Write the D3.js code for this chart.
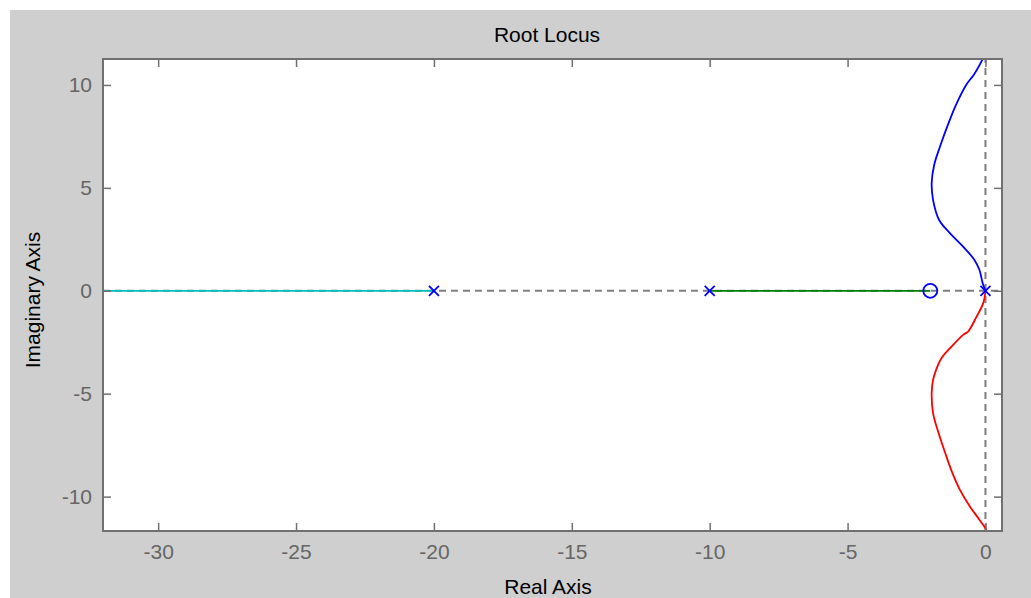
<!DOCTYPE html>
<html>
<head>
<meta charset="utf-8">
<script src="https://cdn.jsdelivr.net/npm/d3@7"></script>
<style>
  html, body { margin: 0; padding: 0; background: #ffffff; }
  svg { display: block; }
  text { font-family: "Liberation Sans", Arial, sans-serif; }
</style>
</head>
<body>
<svg id="chart" width="1031" height="598"></svg>
<script>
// ---- data ----
const xTicks = [-30, -25, -20, -15, -10, -5, 0];
const yTicks = [-10, -5, 0, 5, 10];
const xDomain = [-32, 0.6];
const yDomain = [-11.67, 11.26];

const poles = [-20, -10, 0];
const zeros = [-2];

// branch from double pole at 0 going up (blue)
const blueRe = [0, -0.10, -0.22, -0.40, -0.81, -1.29, -1.68, -1.90, -1.95, -1.86, -1.65, -1.38, -1.08, -0.70, -0.42, -0.20, -0.05];
const blueIm = [0, 0.37, 1.02, 1.50, 2.15, 2.80, 3.44, 4.42, 5.23, 6.11, 7.00, 8.00, 9.00, 10.00, 10.50, 11.00, 11.40];
// branch from double pole at 0 going down (red)
const redRe = [0, -0.08, -0.32, -0.63, -0.81, -1.23, -1.59, -1.79, -1.90, -1.95, -1.90, -1.70, -1.46, -1.20, -0.93, -0.57, -0.22, 0.02, 0.05];
const redIm = [0, -0.60, -1.25, -1.98, -2.14, -2.71, -3.27, -3.84, -4.33, -4.97, -5.94, -6.91, -7.88, -8.85, -9.66, -10.47, -11.12, -11.60, -11.80];
// pole -10 to zero -2 (green)
const greenRe = [-10, -2];
const greenIm = [0, 0];
// pole -20 to -infinity (cyan)
const cyanRe = [-20, -33];
const cyanIm = [0, 0];

// ---- layout ----
const svg = d3.select("#chart");
const W = 1031, H = 598;
const m = { left: 103, top: 59, right: 1002, bottom: 531 };

svg.append("rect").attr("x", 10).attr("y", 10).attr("width", W - 10).attr("height", H - 10).attr("fill", "#cfcfcf");
svg.append("rect").attr("x", m.left).attr("y", m.top).attr("width", m.right - m.left).attr("height", m.bottom - m.top).attr("fill", "#ffffff");

const x = d3.scaleLinear().domain(xDomain).range([m.left, m.right]);
const y = d3.scaleLinear().domain(yDomain).range([m.bottom, m.top]);

svg.append("clipPath").attr("id", "clip")
  .append("rect").attr("x", m.left).attr("y", m.top).attr("width", m.right - m.left).attr("height", m.bottom - m.top);

const plot = svg.append("g").attr("clip-path", "url(#clip)");

// dashed reference axes
plot.append("line")
  .attr("x1", x(xDomain[0])).attr("x2", x(xDomain[1])).attr("y1", y(0)).attr("y2", y(0))
  .attr("stroke", "#7f7f7f").attr("stroke-width", 2).attr("stroke-dasharray", "7,5");
plot.append("line")
  .attr("x1", x(0)).attr("x2", x(0)).attr("y1", y(yDomain[0])).attr("y2", y(yDomain[1]))
  .attr("stroke", "#7f7f7f").attr("stroke-width", 2).attr("stroke-dasharray", "7,5");

const line = d3.line().x(d => x(d[0])).y(d => y(d[1])).curve(d3.curveCatmullRom.alpha(0.5));
const branches = [
  { re: cyanRe, im: cyanIm, color: "#00bfbf" },
  { re: greenRe, im: greenIm, color: "#008000" },
  { re: blueRe, im: blueIm, color: "#0000ff" },
  { re: redRe, im: redIm, color: "#ff0000" }
];
branches.forEach(b => {
  plot.append("path")
    .datum(b.re.map((v, i) => [v, b.im[i]]))
    .attr("d", line)
    .attr("fill", "none")
    .attr("stroke", b.color)
    .attr("stroke-width", 1.8)
    .attr("stroke-linejoin", "round");
});

// pole markers (x)
const s = 5;
poles.forEach(p => {
  const g = plot.append("g").attr("transform", `translate(${x(p)},${y(0)})`);
  g.append("line").attr("x1", -s).attr("y1", -s).attr("x2", s).attr("y2", s).attr("stroke", "#0000ff").attr("stroke-width", 1.8);
  g.append("line").attr("x1", -s).attr("y1", s).attr("x2", s).attr("y2", -s).attr("stroke", "#0000ff").attr("stroke-width", 1.8);
});
// zero markers (o)
zeros.forEach(z => {
  plot.append("circle").attr("cx", x(z)).attr("cy", y(0)).attr("r", 7)
    .attr("fill", "none").attr("stroke", "#0000ff").attr("stroke-width", 1.8);
});

// ---- axes ----
const axisColor = "#707070";
const tickLen = 8;
const fmt = d => String(d);

function styleAxis(g, showLabels) {
  g.selectAll(".domain").remove();
  g.selectAll(".tick line").attr("stroke", axisColor).attr("stroke-width", 1.5);
  g.selectAll(".tick text")
    .attr("fill", "#666666")
    .style("font-size", "21px")
    .style("font-family", "'Liberation Sans', Arial, sans-serif");
  if (!showLabels) g.selectAll(".tick text").remove();
}

svg.append("g").attr("transform", `translate(0,${m.bottom})`)
  .call(d3.axisBottom(x).tickValues(xTicks).tickFormat(fmt).tickSizeInner(-tickLen).tickSizeOuter(0).tickPadding(13))
  .call(g => styleAxis(g, true));
svg.append("g").attr("transform", `translate(0,${m.top})`)
  .call(d3.axisTop(x).tickValues(xTicks).tickFormat(fmt).tickSizeInner(-tickLen).tickSizeOuter(0))
  .call(g => styleAxis(g, false));
svg.append("g").attr("transform", `translate(${m.left},0)`)
  .call(d3.axisLeft(y).tickValues(yTicks).tickFormat(fmt).tickSizeInner(-tickLen).tickSizeOuter(0).tickPadding(11))
  .call(g => styleAxis(g, true));
svg.append("g").attr("transform", `translate(${m.right},0)`)
  .call(d3.axisRight(y).tickValues(yTicks).tickFormat(fmt).tickSizeInner(-tickLen).tickSizeOuter(0))
  .call(g => styleAxis(g, false));

// frame
svg.append("rect").attr("x", m.left).attr("y", m.top).attr("width", m.right - m.left).attr("height", m.bottom - m.top)
  .attr("fill", "none").attr("stroke", axisColor).attr("stroke-width", 2);

// ---- titles ----
svg.append("text").attr("x", 547).attr("y", 42).attr("text-anchor", "middle")
  .style("font-size", "21px").attr("fill", "#000").text("Root Locus");
svg.append("text").attr("x", 548).attr("y", 594).attr("text-anchor", "middle")
  .style("font-size", "21px").attr("fill", "#000").text("Real Axis");
svg.append("text").attr("transform", "translate(40,300) rotate(-90)").attr("text-anchor", "middle")
  .style("font-size", "21px").attr("fill", "#000").text("Imaginary Axis");
</script>
</body>
</html>
